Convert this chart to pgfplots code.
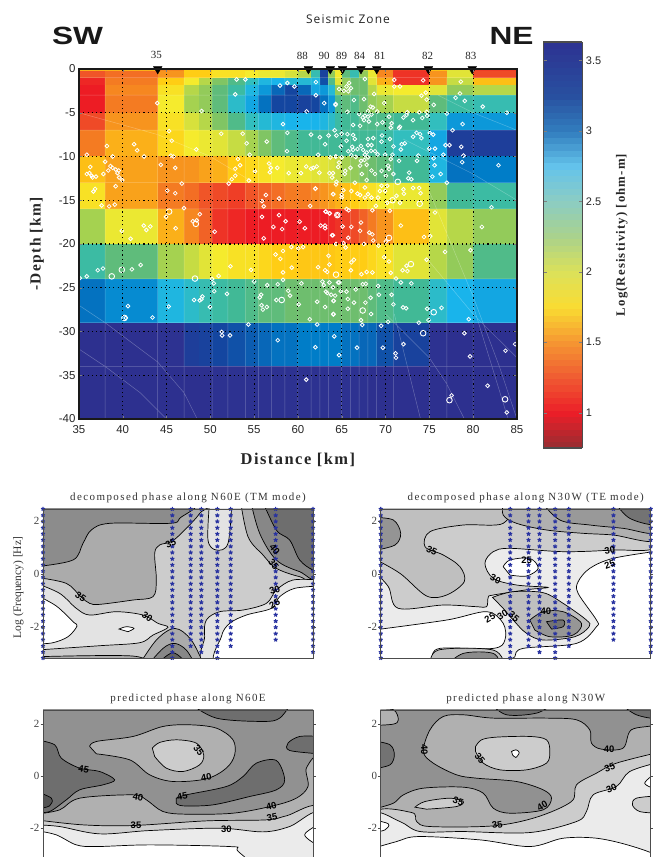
\documentclass[border=0pt]{standalone}
\usepackage{pgfplots}
\usepackage{pgfplotstable}
\usepackage{fontspec}
\pgfplotsset{compat=1.18}
\setmainfont{Liberation Serif}
\newfontfamily\sans{Liberation Sans}
\newfontfamily\lsserif[LetterSpace=13]{Liberation Serif}
\newfontfamily\lsbold[LetterSpace=9]{Liberation Serif Bold}
\newfontfamily\lssans[LetterSpace=9]{Open Sans}

\tikzset{clab/.style={font=\sans\bfseries\fontsize{9.5}{9.5}\selectfont, inner sep=0pt}}
% colour scale of the colorbar and the (more saturated) one of the section
\pgfplotsset{
  colormap={cb}{rgb255(0pt)=(150,45,50) rgb255(25pt)=(235,30,40) rgb255(50pt)=(240,90,50)
    rgb255(75pt)=(245,150,50) rgb255(100pt)=(250,220,50) rgb255(125pt)=(220,225,90)
    rgb255(150pt)=(170,210,140) rgb255(175pt)=(140,205,195) rgb255(200pt)=(100,195,235)
    rgb255(225pt)=(50,125,190) rgb255(250pt)=(40,80,160) rgb255(288pt)=(45,50,145)},
  colormap={hm}{rgb255(0pt)=(150,40,45) rgb255(25pt)=(237,28,36) rgb255(50pt)=(240,85,40)
    rgb255(75pt)=(247,148,30) rgb255(95pt)=(255,205,20) rgb255(110pt)=(245,235,45)
    rgb255(125pt)=(215,225,60) rgb255(140pt)=(165,210,80) rgb255(155pt)=(110,190,110)
    rgb255(170pt)=(65,185,150) rgb255(185pt)=(50,190,190) rgb255(205pt)=(25,180,235)
    rgb255(225pt)=(0,125,200) rgb255(250pt)=(20,70,160) rgb255(275pt)=(45,50,145) rgb255(288pt)=(45,45,140)},
  cf/.style={draw=black, line width=.7bp, smooth, tension=.55, no marks},
  panel/.style={
    scale only axis, width=270bp, clip mode=individual, axis on top,
    xtick=\empty, ytick={-2,0,2}, tick align=outside, major tick length=2.5bp,
    axis line style={black!70, line width=.9bp}, tick style={black!70},
    yticklabel style={font=\fontsize{11}{12}\selectfont, text=black!75, inner sep=1bp},
    /pgf/number format/assume math mode=true,
    title style={font=\lsserif\fontsize{11}{12}\selectfont, text=black!80, xshift=10bp, yshift=-3bp},
  },
}

% log10 of the frequencies of the sounding, shared by all stations
\pgfplotstableread{
f
2.44
2.2
1.97
1.73
1.5
1.27
1.03
.8
.56
.33
.09
-.14
-.38
-.61
-.85
-1.08
-1.32
-1.55
-1.79
-2.02
-2.26
-2.49
-2.73
-2.96
-3.18
}\freqs
\newcommand\station[2]{\addplot[only marks, mark=star, mark size=2.1bp, line width=1.15bp, color={rgb,255:red,40;green,50;blue,160},
  restrict y to domain=#2:3] table[x expr=#1, y=f] {\freqs};}

\begin{document}
\begin{tikzpicture}[x=1bp,y=1bp]
\useasboundingbox (0,0) rectangle (655,857);

% ---- resistivity section ----
\begin{axis}[
  at={(78.9bp,438bp)}, anchor=south west,
  scale only axis, width=438bp, height=350bp,
  xmin=35, xmax=85, ymin=-40, ymax=0,
  xtick={35,40,...,85}, ytick={0,-5,...,-40},
  clip mode=individual, axis on top,
  grid=major, grid style={black, line width=1.1bp, dash pattern=on 1.1bp off 3.2bp},
  tick align=inside, major tick length=3bp,
  axis line style={black!90, line width=1.5bp},
  tick label style={font=\sans\fontsize{11.5}{12}\selectfont, text=black!85},
  xticklabel style={yshift=-3bp},
  /pgf/number format/assume math mode=true,
  xlabel={Distance [km]}, ylabel={-Depth [km]},
  xlabel style={font=\lsbold\fontsize{16.5}{17}\selectfont, text=black!85, yshift=-13bp},
  ylabel style={font=\lsbold\fontsize{15.5}{16}\selectfont, text=black!85, yshift=8bp},
  colormap name=cb, point meta min=0.75, point meta max=3.63,
  colorbar sampled,
  colorbar style={samples=65, at={(parent axis.north east)}, anchor=north west,
    xshift=18bp, yshift=27bp, width=39bp, height=406bp,
    ytick={1,1.5,2,2.5,3,3.5}, yticklabels={1,1.5,2,2.5,3,3.5}, ytick pos=both, yticklabel pos=right,
    tick align=inside, major tick length=3.5bp, axis line style={black!70, line width=1.2bp},
    grid=none,
    tick label style={font=\sans\fontsize{11}{12}\selectfont, text=black!85},
    ylabel={Log(Resistivity) [ohm-m]},
    ylabel style={font=\lsbold\fontsize{12.8}{13}\selectfont, text=black!85, yshift=-8bp, xshift=10bp},
  },
]
\addplot[surf, shader=flat corner, colormap name=hm, mesh/cols=26, point meta=explicit]
  table[row sep=\\, x=x, y=y, meta=c] {
x y c\\
35 0 1.6\\38 0 1.6\\44 0 1.45\\47 0 1.7\\48.7 0 1.7\\50.2 0 1.8\\52 0 1.8\\54 0 1.8\\55.5 0 1.8\\57 0 1.85\\58.5 0 1.85\\60 0 1.8\\61.5 0 2.5\\62.5 0 3.25\\63.5 0 2.0\\64.3 0 1.85\\65 0 2.4\\66 0 2.5\\67 0 2.1\\68 0 1.8\\69 0 1.45\\70.9 0 1.15\\75 0 1.65\\77 0 1.95\\80 0 1.15\\85 0 1.15\\
35 -0.3 1.25\\38 -0.3 1.35\\44 -0.3 1.5\\47 -0.3 1.7\\48.7 -0.3 1.7\\50.2 -0.3 1.8\\52 -0.3 1.8\\54 -0.3 1.85\\55.5 -0.3 1.9\\57 -0.3 1.9\\58.5 -0.3 2.0\\60 -0.3 2.1\\61.5 -0.3 2.55\\62.5 -0.3 3.3\\63.5 -0.3 2.2\\64.3 -0.3 1.85\\65 -0.3 2.35\\66 -0.3 2.55\\67 -0.3 2.2\\68 -0.3 1.9\\69 -0.3 1.45\\70.9 -0.3 1.1\\75 -0.3 1.5\\77 -0.3 1.95\\80 -0.3 1.2\\85 -0.3 1.2\\
35 -1 1.05\\38 -1 1.4\\44 -1 1.7\\47 -1 1.85\\48.7 -1 2.1\\50.2 -1 2.25\\52 -1 2.4\\54 -1 2.6\\55.5 -1 2.75\\57 -1 2.8\\58.5 -1 2.7\\60 -1 2.7\\61.5 -1 2.75\\62.5 -1 3.2\\63.5 -1 2.4\\64.3 -1 1.95\\65 -1 2.2\\66 -1 2.3\\67 -1 2.3\\68 -1 1.95\\69 -1 1.6\\70.9 -1 1.1\\75 -1 1.5\\77 -1 2.05\\80 -1 1.65\\85 -1 1.65\\
35 -1.9 1.0\\38 -1.9 1.45\\44 -1.9 1.8\\47 -1.9 2.1\\48.7 -1.9 2.2\\50.2 -1.9 2.35\\52 -1.9 2.5\\54 -1.9 2.75\\55.5 -1.9 2.9\\57 -1.9 3.1\\58.5 -1.9 3.25\\60 -1.9 3.1\\61.5 -1.9 2.85\\62.5 -1.9 2.9\\63.5 -1.9 2.7\\64.3 -1.9 2.2\\65 -1.9 2.2\\66 -1.9 2.3\\67 -1.9 2.3\\68 -1.9 2.1\\69 -1.9 1.9\\70.9 -1.9 1.85\\75 -1.9 1.95\\77 -1.9 2.2\\80 -1.9 2.1\\85 -1.9 2.1\\
35 -3 1.0\\38 -3 1.4\\44 -3 1.85\\47 -3 2.15\\48.7 -3 2.2\\50.2 -3 2.35\\52 -3 2.65\\54 -3 2.85\\55.5 -3 3.05\\57 -3 3.25\\58.5 -3 3.25\\60 -3 3.3\\61.5 -3 3.25\\62.5 -3 3.05\\63.5 -3 2.9\\64.3 -3 2.4\\65 -3 2.35\\66 -3 2.4\\67 -3 2.3\\68 -3 2.2\\69 -3 2.15\\70.9 -3 2.05\\75 -3 2.35\\77 -3 2.5\\80 -3 2.55\\85 -3 2.55\\
35 -5 1.2\\38 -5 1.5\\44 -5 1.8\\47 -5 2.0\\48.7 -5 2.1\\50.2 -5 2.25\\52 -5 2.4\\54 -5 2.6\\55.5 -5 2.7\\57 -5 2.75\\58.5 -5 2.8\\60 -5 2.8\\61.5 -5 2.8\\62.5 -5 2.75\\63.5 -5 2.65\\64.3 -5 2.5\\65 -5 2.45\\66 -5 2.45\\67 -5 2.4\\68 -5 2.4\\69 -5 2.4\\70.9 -5 2.45\\75 -5 2.6\\77 -5 2.9\\80 -5 2.9\\85 -5 2.9\\
35 -7 1.4\\38 -7 1.6\\44 -7 1.75\\47 -7 1.85\\48.7 -7 1.9\\50.2 -7 1.95\\52 -7 2.05\\54 -7 2.15\\55.5 -7 2.25\\57 -7 2.35\\58.5 -7 2.4\\60 -7 2.45\\61.5 -7 2.45\\62.5 -7 2.45\\63.5 -7 2.45\\64.3 -7 2.45\\65 -7 2.45\\66 -7 2.45\\67 -7 2.45\\68 -7 2.45\\69 -7 2.5\\70.9 -7 2.6\\75 -7 2.85\\77 -7 3.35\\80 -7 3.35\\85 -7 3.35\\
35 -10 1.65\\38 -10 1.55\\44 -10 1.5\\47 -10 1.5\\48.7 -10 1.55\\50.2 -10 1.6\\52 -10 1.7\\54 -10 1.75\\55.5 -10 1.8\\57 -10 1.85\\58.5 -10 1.9\\60 -10 1.9\\61.5 -10 1.95\\62.5 -10 1.95\\63.5 -10 2.0\\64.3 -10 2.05\\65 -10 2.15\\66 -10 2.2\\67 -10 2.25\\68 -10 2.3\\69 -10 2.35\\70.9 -10 2.45\\75 -10 2.75\\77 -10 3.05\\80 -10 3.0\\85 -10 3.0\\
35 -13 1.8\\38 -13 1.55\\44 -13 1.4\\47 -13 1.35\\48.7 -13 1.25\\50.2 -13 1.2\\52 -13 1.15\\54 -13 1.25\\55.5 -13 1.3\\57 -13 1.35\\58.5 -13 1.4\\60 -13 1.4\\61.5 -13 1.45\\62.5 -13 1.5\\63.5 -13 1.55\\64.3 -13 1.6\\65 -13 1.65\\66 -13 1.7\\67 -13 1.75\\68 -13 1.8\\69 -13 1.85\\70.9 -13 1.9\\75 -13 2.2\\77 -13 2.45\\80 -13 2.5\\85 -13 2.5\\
35 -16 2.15\\38 -16 1.9\\44 -16 1.6\\47 -16 1.45\\48.7 -16 1.3\\50.2 -16 1.1\\52 -16 1.05\\54 -16 1\\55.5 -16 1\\57 -16 1\\58.5 -16 1\\60 -16 1\\61.5 -16 1\\62.5 -16 1\\63.5 -16 1.05\\64.3 -16 1.1\\65 -16 1.15\\66 -16 1.2\\67 -16 1.3\\68 -16 1.4\\69 -16 1.5\\70.9 -16 1.65\\75 -16 1.95\\77 -16 2.1\\80 -16 2.2\\85 -16 2.2\\
35 -20 2.5\\38 -20 2.35\\44 -20 2.15\\47 -20 2.05\\48.7 -20 1.95\\50.2 -20 1.85\\52 -20 1.8\\54 -20 1.8\\55.5 -20 1.75\\57 -20 1.7\\58.5 -20 1.7\\60 -20 1.68\\61.5 -20 1.68\\62.5 -20 1.68\\63.5 -20 1.68\\64.3 -20 1.7\\65 -20 1.7\\66 -20 1.7\\67 -20 1.7\\68 -20 1.75\\69 -20 1.8\\70.9 -20 1.95\\75 -20 2.1\\77 -20 2.2\\80 -20 2.4\\85 -20 2.4\\
35 -24 3.05\\38 -24 2.95\\44 -24 2.75\\47 -24 2.65\\48.7 -24 2.55\\50.2 -24 2.5\\52 -24 2.45\\54 -24 2.4\\55.5 -24 2.35\\57 -24 2.35\\58.5 -24 2.3\\60 -24 2.3\\61.5 -24 2.3\\62.5 -24 2.3\\63.5 -24 2.3\\64.3 -24 2.3\\65 -24 2.3\\66 -24 2.3\\67 -24 2.3\\68 -24 2.35\\69 -24 2.4\\70.9 -24 2.45\\75 -24 2.65\\77 -24 2.8\\80 -24 2.85\\85 -24 2.85\\
35 -29 3.55\\38 -29 3.55\\44 -29 3.5\\47 -29 3.35\\48.7 -29 3.3\\50.2 -29 3.25\\52 -29 3.2\\54 -29 3.15\\55.5 -29 3.1\\57 -29 3.05\\58.5 -29 3.05\\60 -29 3\\61.5 -29 3\\62.5 -29 3\\63.5 -29 3\\64.3 -29 3\\65 -29 3.05\\66 -29 3.05\\67 -29 3.1\\68 -29 3.1\\69 -29 3.2\\70.9 -29 3.3\\75 -29 3.5\\77 -29 3.55\\80 -29 3.55\\85 -29 3.55\\
35 -34 3.55\\38 -34 3.55\\44 -34 3.55\\47 -34 3.55\\48.7 -34 3.55\\50.2 -34 3.5\\52 -34 3.5\\54 -34 3.5\\55.5 -34 3.5\\57 -34 3.5\\58.5 -34 3.5\\60 -34 3.5\\61.5 -34 3.5\\62.5 -34 3.5\\63.5 -34 3.5\\64.3 -34 3.5\\65 -34 3.5\\66 -34 3.5\\67 -34 3.5\\68 -34 3.55\\69 -34 3.55\\70.9 -34 3.55\\75 -34 3.55\\77 -34 3.55\\80 -34 3.55\\85 -34 3.55\\
35 -40 3.55\\38 -40 3.55\\44 -40 3.55\\47 -40 3.55\\48.7 -40 3.55\\50.2 -40 3.5\\52 -40 3.5\\54 -40 3.5\\55.5 -40 3.5\\57 -40 3.5\\58.5 -40 3.5\\60 -40 3.5\\61.5 -40 3.5\\62.5 -40 3.5\\63.5 -40 3.5\\64.3 -40 3.5\\65 -40 3.5\\66 -40 3.5\\67 -40 3.5\\68 -40 3.55\\69 -40 3.55\\70.9 -40 3.55\\75 -40 3.55\\77 -40 3.55\\80 -40 3.55\\85 -40 3.55\\
};
% pale mesh lines of the inversion grid
\addplot[white, opacity=.28, line width=.5bp, no marks, unbounded coords=jump] coordinates {
(35,-1)(85,-1)(35,nan)(35,-3)(85,-3)(35,nan)(35,-7)(85,-7)(35,nan)(35,-13)(85,-13)(35,nan)(35,-16)(85,-16)(35,nan)
(35,-24)(85,-24)(35,nan)(35,-29)(85,-29)(35,nan)(35,-34)(85,-34)(35,nan)
(38,-1)(38,-40)(35,nan)(44,-1)(44,-40)(35,nan)(47,-1)(47,-40)(35,nan)(50.2,-1)(50.2,-40)(35,nan)(52,-1)(52,-40)(35,nan)
(54,-1)(54,-40)(35,nan)(55.5,-1)(55.5,-40)(35,nan)(57,-1)(57,-40)(35,nan)(58.5,-1)(58.5,-40)(35,nan)(60,-1)(60,-40)(35,nan)
(61.5,-1)(61.5,-40)(35,nan)(62.5,-1)(62.5,-40)(35,nan)(63.5,-1)(63.5,-40)(35,nan)(65,-1)(65,-40)(35,nan)(66,-1)(66,-40)(35,nan)
(67,-1)(67,-40)(35,nan)(68,-1)(68,-40)(35,nan)(69,-1)(69,-40)(35,nan)(70.9,-1)(70.9,-40)(35,nan)(75,-1)(75,-40)(35,nan)(77,-1)(77,-40)(35,nan)(80,-1)(80,-40)(35,nan)
(35,-27)(38,-29)(44,-33.5)(47,-37)(48.5,-40)(35,nan)(35,-32)(38,-34)(42,-37)(45,-40)(35,nan)(35,-5)(44,-7.5)(50,-10)(55,-13)(35,nan)
(70,-28)(75,-33)(77,-36)(79,-40)(35,nan)(75,-14)(80,-26)(83,-34)(85,-40)(35,nan)(72,-8)(80,-12)(85,-15)(35,nan)(76,-3)(80,-5)(85,-7)(35,nan)
(75,-22)(80,-28)(85,-33)(35,nan)(71,-28)(74,-40)(35,nan)(80,-27)(84,-40)
};
% earthquakes
\addplot[only marks, mark=o, mark size=1.9bp, mark options={white, line width=.8bp}] coordinates {
(53,-1.2)(54,-1.2)(52.85,-2.9)(57.95,-1.9)(58.8,-1.6)(59.6,-2)(62.05,-1.5)(62.05,-3)(63,-3.9)(64.3,-4)(61,-4.85)(43.95,-3.9)(49,-4.8)
(45.3,-7.1)(45.6,-8.2)(48.4,-9.2)(45.5,-9.9)(45.8,-10)(44.35,-10.95)(46,-11.3)(46.75,-13.1)(45.1,-13.9)(46,-14.2)(47,-15.9)
(35.9,-9.8)(38.2,-8.8)(38.85,-10)(41.3,-8.6)(41.65,-9.3)(42.45,-10)(38,-10.6)(36.3,-11.2)(35.9,-12)(36.2,-11.9)(36.45,-12.2)(36.55,-12.4)(36.95,-12.3)(37.8,-12)(38.35,-11.6)(38.6,-11.1)(38.85,-11.3)(39.2,-11.5)(39.55,-11.6)(39.4,-11.9)(39.6,-12.4)(39.95,-12.7)(39.2,-13.4)(36.85,-13.7)(36.65,-14)(37.6,-15.6)(38.45,-15.7)(39.1,-15.5)
(44.95,-16.9)(46.05,-18.2)(42.4,-17.9)(43.15,-18)(42.7,-18.4)(39.9,-18.5)(40.9,-19.4)(48.8,-16.6)(48,-17.4)(48.45,-17.3)(50.5,-18.6)
(51.25,-7.4)(53.7,-7.4)(54.15,-8.5)(54.5,-9.8)(53.15,-10.3)(53.4,-11)(52.85,-11.4)(52.85,-12.2)(52.45,-12.6)(52.1,-13.1)(54.4,-12.75)(55.1,-11.7)
(56.45,-8.3)(58.8,-7.3)(58.75,-9.4)(58.3,-6.3)(56.7,-10.8)(56.9,-11.3)(57.65,-11.3)(56.8,-11.8)(58.95,-11.9)(60.35,-11.9)
(60.95,-11.15)(61.5,-11.4)(61.75,-11.3)(62.15,-11.15)(62.45,-11.85)(63.6,-11.9)(64,-11.9)(63.9,-12.4)
(61.5,-7.5)(62.5,-7.8)(63.5,-7.6)(63.1,-8.6)(64.2,-7)(64.4,-7.6)(62.3,-9.8)(63.7,-10.1)(64.3,-10)(64.7,-10.7)(64.6,-11.2)(64.35,-13.2)(64,-14.3)(62,-13.7)(61.4,-15.65)
(56.35,-14.4)(55.9,-15.1)(56.1,-15.7)(57.85,-14.8)(55.9,-16.9)(57.85,-16.7)(58.6,-17.4)(57.2,-18.05)(58.2,-18.3)(60.2,-17.45)(60.8,-18.2)(56.1,-19.35)(63.2,-16.3)(63.6,-16.5)(64.5,-16.7)(62.6,-17.9)(63.1,-17.9)(63.1,-18.2)(64,-19)
(71,-1.25)(74.3,-1.3)(71,-2)(71.65,-2)(74.6,-2.7)(74.1,-3.05)(74.7,-3.5)(75.5,-4.1)(78.6,-1.45)(78.5,-2.8)(78,-3.3)(79.05,-3.65)(81.1,-4.3)(77,-5.1)(78.8,-6.3)(77.65,-7)(83.85,-5)(76.85,-8.7)(77.3,-8.7)(78.65,-8.9)(78.9,-9.9)(78.75,-10.65)(82.9,-11)(76.6,-9.8)(75.45,-7.5)(75.05,-7.3)(75,-9.1)(75.65,-9.1)(75.5,-10.2)(75.6,-11)(76.3,-12)(75.35,-12.3)(77,-13)(82.1,-15.8)(75.65,-16.4)(81,-18.05)(71.75,-17.9)(74.4,-19.2)(75.1,-19.1)
(65.85,-1.6)(65.25,-2.5)(64.7,-2.3)(66.05,-2.2)(65.55,-2)(65.75,-2.55)(67.65,-1.15)(66.4,-3.55)(67.55,-3.45)(68.7,-2.85)(69.85,-3.9)(64.3,-4.1)(65.65,-4.9)(67,-5.15)(68.3,-4.3)(68.55,-4.4)(68,-4.8)(69.05,-4.85)(67.65,-5.35)(67.4,-5.55)(68,-5.45)(68.4,-5.2)(67.55,-5.85)(67.1,-6.5)(66.3,-6.4)(68.1,-6)(69.05,-6.3)(69.65,-6.1)(70.4,-5.45)(70.7,-6.2)(70.6,-6.7)(71.55,-6.75)(72.4,-5.25)(72.05,-5.55)(71.65,-6.6)(72.5,-4.95)(73.15,-5.85)(73.85,-4.95)(74.2,-5.6)(74.75,-5.35)(74.7,-4.9)
(65,-7.4)(65.65,-7.45)(65.55,-8.2)(66.3,-7.55)(66.5,-8)(64.9,-8.85)(66.2,-8.9)(65.75,-9.4)(66.3,-9.25)(66.8,-9.15)(68,-8)(68.6,-7.9)(69.6,-7.6)(70.5,-8)(69.55,-8.3)(67.2,-8.8)(68,-8.7)(68.4,-8.7)(67.45,-9.25)(67.85,-9.55)(68.35,-9.35)(68.8,-9.4)(69.1,-9.75)(67.65,-9.8)(68,-10.1)(66.1,-9.85)(66.6,-10.05)(65,-10.1)(64.35,-10)(69.95,-9.8)(70.9,-8.85)(71.85,-8.6)(72.2,-8.5)(71.75,-9.2)(70.8,-9.8)(71.55,-10.5)(73.15,-7.75)(73.55,-7.3)(73.95,-7.45)(74.1,-7.9)(73.75,-9.9)(73.6,-10.5)
(67.2,-10.5)(67.6,-10.4)(67.1,-11.05)(67.85,-10.95)(66,-11.3)(65.4,-11.65)(67.3,-12)(68.4,-11.6)(68.8,-12)(69.55,-11.65)(70.3,-11.05)(70.6,-10.3)(70.4,-11.45)(70.9,-12)(72.7,-11.85)(72.6,-12.5)(72.95,-12.6)(70.05,-12.2)(67.85,-12.7)(66.5,-13)(64.4,-12.9)(65.35,-12)(62,-13.65)(64.05,-14.3)(65,-14.4)(65.2,-13.85)(66.1,-13.95)(66.8,-14.25)(67.1,-14.4)(67.65,-13.55)(68,-14.3)(68.4,-14.7)(69.15,-14.7)(69.35,-13.95)(69.95,-13.95)(70.2,-13.35)(69.55,-13.35)(71.65,-15.3)(71.25,-14.5)(72.05,-13.75)(73.15,-13.6)(73.85,-13.6)(74,-14.2)(72.1,-14.25)(67.65,-14.7)(68.9,-15.65)(68.5,-16.15)(70.2,-15.3)(70.5,-16.2)(65,-14.7)
(63.15,-16.3)(63.65,-16.5)(65.55,-16)(65.8,-16.15)(67.2,-17.55)(67.1,-18.5)(66.1,-18.05)(65.1,-18)(63.9,-19)(68.15,-18.7)(68.5,-18.9)(65.75,-19.3)
(41.05,-22.9)(42.05,-22.4)(37.75,-22.8)(37.15,-23)(35.9,-23.7)(35.1,-23.9)(40.35,-28.45)(40.6,-27.1)(43.4,-28.4)(45.25,-27.15)(48.15,-26.4)(48.8,-26.45)(49,-26.3)(49.1,-26)(49.95,-27.2)(50.2,-24)(50.95,-23.65)(50.4,-24.5)(50.45,-25.4)(51.9,-25.7)(52.3,-22.55)(54.65,-22.95)(55,-24.3)(54.35,-29.2)(51.3,-30.05)(51.35,-30.45)(52.25,-30.45)(57.7,-31)(62,-31.8)(60.95,-35.5)
(55.65,-26.1)(55.8,-25.8)(55.85,-27)(56,-27.5)(56.45,-27.2)(56.5,-24.7)(57.7,-24.6)(58.3,-24.1)(57.55,-26.4)(58.9,-25.35)(59.1,-25.9)(60.1,-26.9)(60.4,-24.5)(57.45,-21.2)(58,-21.7)(58.3,-20.8)(58.3,-23.25)(59.3,-22.7)(59.25,-20.35)(60.05,-20.5)(60.6,-20.35)(62.3,-22.65)(63.1,-23)(63.35,-23.2)(63.5,-21.35)(63.6,-22.35)(64.35,-20)(61.35,-28.6)(62.2,-29.2)(62.2,-26.6)(63.1,-27.2)(64.05,-26.5)(64.05,-28.05)(62.8,-24.3)(63.6,-24.4)(62.95,-24.7)(63.2,-25.45)(63.35,-25.6)(63.8,-25.8)(64.25,-25.9)(64.6,-24.4)(64,-24.95)(64.15,-30.55)(64.7,-32.7)
(66.1,-22.1)(66.4,-21.8)(66.05,-23)(67.25,-23.45)(67.85,-23.2)(68.5,-23.25)(69.85,-21.5)(70.4,-22)(74.7,-21.8)(76.8,-20.9)(79.7,-20.7)(72.4,-22.5)(71.95,-23)(72.5,-23.1)(70.6,-23.3)(71.2,-23.95)(71.75,-24.4)(72.95,-24.5)(64.7,-24.4)
(64.9,-25.4)(65.55,-25.45)(66.6,-25.2)(67.4,-24.6)(67.75,-24.55)(69.15,-24.8)(69.25,-25.8)(70.7,-25.8)(65.7,-26.3)(66.4,-26.7)(67.7,-26.7)(68.3,-26.15)(64.1,-26.5)(65.7,-27.4)(68.35,-28)(64.05,-28)(70.9,-26.9)(72,-27.25)(72.35,-27.35)(74.75,-27.4)(76.4,-27.3)(79.5,-28.6)(73.8,-29)(74.9,-28.7)(70.3,-28.9)(67.2,-28.7)(67.35,-29.25)(69.5,-29.35)(79,-30.2)(72.05,-31.45)(69.7,-31.85)(66.75,-31.85)(71.15,-32.5)(71.2,-33)(79.65,-32.85)(83.7,-32.2)(84.8,-31.45)(81.65,-36.2)(77.55,-37.3)(83.85,-39.25)
(65.2,-19.9)(64.35,-20)(65.45,-20.4)(67.55,-20)(69.2,-20.2)(70.05,-19.7)(68.6,-19.6)
};
\addplot[only marks, mark=o, mark size=2.8bp, mark options={white, line width=.9bp}] coordinates {
(45.3,-16.3)(48.35,-17.7)(38.75,-23.7)(39.9,-22.95)(48.25,-23.95)(58.15,-26.4)(64.35,-23.5)(71.4,-12.9)(70.8,-15)(73.9,-15.4)(64.5,-16.7)(70.4,-19.3)(72.9,-22.3)(67.4,-27.6)(75.5,-27.8)(74.3,-30.2)(77.3,-37.85)(83.65,-37.75)(40.2,-28.45)
};
% stations
\addplot[only marks, mark=triangle*, mark size=5bp, mark options={rotate=180, fill=black, draw=black}] coordinates {
(44,0)(61.2,0)(63.7,0)(65.1,0)(67.2,0)(69,0)(74.9,0)(79.9,0)};
\node[font=\fontsize{11}{12}\selectfont, text=black!85] at (axis cs:43.85,1.55) {35};
\node[font=\fontsize{11}{12}\selectfont, text=black!85] at (axis cs:60.5,1.55) {88};
\node[font=\fontsize{11}{12}\selectfont, text=black!85] at (axis cs:63,1.55) {90};
\node[font=\fontsize{11}{12}\selectfont, text=black!85] at (axis cs:65,1.55) {89};
\node[font=\fontsize{11}{12}\selectfont, text=black!85] at (axis cs:67.05,1.55) {84};
\node[font=\fontsize{11}{12}\selectfont, text=black!85] at (axis cs:69.35,1.55) {81};
\node[font=\fontsize{11}{12}\selectfont, text=black!85] at (axis cs:74.8,1.55) {82};
\node[font=\fontsize{11}{12}\selectfont, text=black!85] at (axis cs:79.75,1.55) {83};
\end{axis}

\node[font=\sans\bfseries\fontsize{25}{25}\selectfont, xscale=1.27, text=black!90] at (77.5,821.5) {SW};
\node[font=\sans\bfseries\fontsize{25}{25}\selectfont, xscale=1.27, text=black!90] at (511.5,821.5) {NE};
\node[font=\lssans\fontsize{12}{12}\selectfont, text=black!85] at (348,838) {Seismic Zone};

% ---- decomposed phase, TM ----
\begin{axis}[panel, at={(43bp,199bp)}, anchor=south west, height=149bp,
  xmin=130, xmax=940, ymin=-3.18, ymax=2.44,
  title={decomposed phase along N60E (TM mode)},
  ylabel={Log (Frequency) [Hz]}, ylabel style={font=\fontsize{11.5}{12}\selectfont, text=black!80, yshift=2bp, xshift=-4bp},
  cf/.append style={y filter/.expression={(281-y)/79.5}}]
\addplot[cf, fill=black!20, draw=none] coordinates {(110,60)(960,60)(960,560)(110,560)} --cycle;
\addplot[cf, fill=black!33] coordinates {(110,292)(200,310)(243,350)(270,370)(300,373)(400,360)(460,350)(470,300)(465,220)(480,195)(515,185)(550,155)(600,100)(610,60)(110,60)} --cycle;
\addplot[cf, fill=black!45] coordinates {(110,260)(220,240)(250,190)(275,150)(330,130)(510,130)(540,115)(570,60)(110,60)} --cycle;
\addplot[cf, fill=black!33] coordinates {(722,60)(745,170)(790,225)(830,265)(900,290)(960,297)(970,60)} --cycle;
\addplot[cf, fill=black!47] coordinates {(752,60)(780,160)(830,240)(900,275)(960,288)(970,60)} --cycle;
\addplot[cf, fill=black!57] coordinates {(787,60)(830,150)(870,180)(900,240)(940,270)(970,270)(970,60)} --cycle;
\addplot[cf, fill=black!11] coordinates {(630,60)(625,180)(650,210)(685,190)(697,60)} --cycle;
\addplot[cf, fill=black!11] coordinates {(110,310)(180,340)(230,385)(270,405)(350,395)(430,405)(475,430)(505,442)(460,465)(420,488)(300,497)(110,510)} --cycle;
\addplot[cf, fill=white] coordinates {(110,345)(170,378)(220,425)(232,438)(205,470)(160,488)(110,492)} --cycle;
\addplot[cf, fill=white] coordinates {(358,447)(380,440)(403,445)(385,455)} --cycle;
\addplot[cf, fill=black!33] coordinates {(110,530)(400,528)(430,560)(110,560)} --cycle;
\addplot[cf, fill=black!11] coordinates {(960,300)(880,300)(830,330)(800,370)(730,390)(660,395)(620,420)(615,470)(628,560)(960,560)} --cycle;
\addplot[cf, fill=white] coordinates {(960,318)(885,325)(840,350)(815,385)(740,405)(690,430)(665,470)(660,560)(960,560)} --cycle;
\addplot[cf, fill=black!33] coordinates {(415,560)(470,480)(525,445)(575,480)(615,560)} --cycle;
\addplot[cf, fill=black!47] coordinates {(440,560)(490,505)(525,490)(560,510)(590,560)} --cycle;
\addplot[cf, fill=black!62] coordinates {(465,560)(520,518)(570,560)} --cycle;
\station{130}{-3.2}\station{518}{-3.2}\station{573}{-2.9}\station{605}{-3}\station{653}{-3.2}\station{693}{-2.75}\station{828}{-2.5}\station{940}{-3}
\node[clab,rotate=25] at (axis cs:513,1.14) {35};
\node[clab,rotate=-35] at (axis cs:243,-.87) {35};
\node[clab,rotate=-35] at (axis cs:443,-1.62) {30};
\node[clab,rotate=-50] at (axis cs:825,.92) {40};
\node[clab,rotate=-50] at (axis cs:822,.36) {35};
\node[clab,rotate=20] at (axis cs:825,-.62) {30};
\node[clab,rotate=30] at (axis cs:825,-1.14) {25};
\end{axis}

% ---- decomposed phase, TE ----
\begin{axis}[panel, at={(380.7bp,199bp)}, anchor=south west, height=149bp,
  xmin=152, xmax=963, ymin=-3.18, ymax=2.44,
  title={decomposed phase along N30W (TE mode)},
  cf/.append style={y filter/.expression={(281-y)/79.5}}]
\addplot[cf, fill=black!8, draw=none] coordinates {(130,60)(985,60)(985,560)(130,560)} --cycle;
\addplot[cf, fill=black!20] coordinates {(130,60)(985,60)(985,198)(850,210)(700,215)(540,205)(490,215)(465,250)(490,295)(560,315)(655,322)(600,328)(490,345)(475,352)(470,380)(440,380)(340,375)(205,385)(175,320)(130,272)} --cycle;
\addplot[cf, fill=black!25] coordinates {(130,60)(520,60)(520,130)(400,135)(300,155)(285,200)(340,225)(390,260)(403,305)(350,345)(290,348)(210,280)(130,235)} --cycle;
\addplot[cf, fill=black!42] coordinates {(130,112)(190,120)(212,160)(195,195)(130,212)} --cycle;
\addplot[cf, fill=black!31] coordinates {(520,60)(520,105)(560,130)(650,150)(760,160)(850,165)(985,180)(985,60)} --cycle;
\addplot[cf, fill=black!40] coordinates {(630,60)(690,120)(780,135)(880,145)(985,157)(985,60)} --cycle;
\addplot[cf, fill=black!55] coordinates {(850,60)(900,115)(985,132)(985,60)} --cycle;
\addplot[cf, fill=white] coordinates {(985,213)(850,235)(780,265)(745,305)(745,340)(800,420)(800,440)(740,490)(580,505)(555,530)(550,560)(985,560)} --cycle;
\addplot[cf, fill=white] coordinates {(130,450)(350,420)(470,395)(520,430)(525,480)(490,505)(330,505)(305,535)(295,560)(130,560)} --cycle;
\addplot[cf, fill=white] coordinates {(520,260)(540,240)(600,235)(625,265)(590,288)(540,285)} --cycle;
\addplot[cf, fill=black!25] coordinates {(488,352)(550,335)(640,338)(700,370)(770,420)(778,440)(735,470)(640,480)(590,460)(550,420)(520,385)} --cycle;
\addplot[cf, fill=black!41] coordinates {(600,420)(640,395)(700,395)(755,430)(730,465)(660,470)(615,450)} --cycle;
\addplot[cf, fill=black!55] coordinates {(650,425)(700,420)(700,440)(665,447)} --cycle;
\addplot[cf, fill=black!25] coordinates {(300,560)(325,510)(490,510)(525,560)} --cycle;
\addplot[cf, fill=black!45] coordinates {(345,560)(400,520)(490,520)(515,560)} --cycle;
\station{152}{-3.2}\station{541}{-3.2}\station{596}{-2.9}\station{629}{-3}\station{676}{-3.2}\station{717}{-2.75}\station{851}{-2.5}\station{963}{-3}
\node[clab,rotate=-25] at (axis cs:305,.87) {35};
\node[clab] at (axis cs:590,.52) {25};
\node[clab,rotate=-25] at (axis cs:497,-.21) {30};
\node[clab] at (axis cs:648,-1.4) {40};
\node[clab,rotate=30] at (axis cs:480,-1.66) {25};
\node[clab,rotate=30] at (axis cs:518,-1.56) {30};
\node[clab,rotate=-40] at (axis cs:552,-1.62) {35};
\node[clab,rotate=10] at (axis cs:840,.87) {30};
\node[clab,rotate=20] at (axis cs:840,.36) {25};
\end{axis}

% ---- predicted phase, N60E ----
\begin{axis}[panel, at={(43bp,-1bp)}, anchor=south west, height=148bp,
  xmin=130, xmax=940, ymin=-3.17, ymax=2.54, ytick pos=both, yticklabel pos=left,
  title={predicted phase along N60E},
  cf/.append style={y filter/.expression={(288-y)/77.7}}]
\addplot[cf, fill=black!43, draw=none] coordinates {(110,60)(960,60)(960,570)(110,570)} --cycle;
\addplot[cf, fill=black!57] coordinates {(570,70)(650,115)(790,125)(840,115)(875,70)} --cycle;
\addplot[cf, fill=black!57] coordinates {(110,180)(165,195)(185,235)(240,265)(300,275)(345,300)(310,315)(240,330)(200,360)(150,395)(110,398)} --cycle;
\addplot[cf, fill=black!67] coordinates {(110,335)(155,355)(150,378)(110,388)} --cycle;
\addplot[cf, fill=black!57] coordinates {(960,170)(900,170)(865,190)(870,212)(960,222)} --cycle;
\addplot[cf, fill=black!31] coordinates {(270,200)(290,185)(400,170)(490,140)(570,135)(650,145)(700,180)(705,225)(680,265)(620,297)(520,305)(450,285)(390,240)(290,222)} --cycle;
\addplot[cf, fill=black!20] coordinates {(458,205)(480,188)(530,180)(590,190)(612,225)(600,255)(550,275)(500,265)(465,230)} --cycle;
\addplot[cf, fill=black!57] coordinates {(530,355)(560,345)(680,320)(730,290)(770,250)(830,242)(855,300)(830,330)(750,350)(640,375)(550,378)(530,370)} --cycle;
\addplot[cf, fill=black!31] coordinates {(110,403)(180,390)(240,355)(400,345)(440,360)(490,395)(560,403)(700,400)(820,378)(890,355)(925,320)(920,265)(960,248)(960,570)(110,570)} --cycle;
\addplot[cf, fill=black!20] coordinates {(110,420)(250,435)(400,437)(620,423)(800,420)(860,408)(960,384)(960,570)(110,570)} --cycle;
\addplot[cf, fill=black!8] coordinates {(110,435)(180,440)(300,462)(450,452)(660,445)(790,456)(870,440)(960,400)(960,570)(110,570)} --cycle;
\addplot[cf, fill=white] coordinates {(110,452)(170,465)(230,495)(290,500)(450,495)(690,500)(712,510)(705,570)(110,570)} --cycle;
\addplot[cf, fill=white] coordinates {(960,432)(915,465)(960,500)} --cycle;
\node[clab,rotate=-50] at (axis cs:597,.98) {35};
\node[clab,rotate=-10] at (axis cs:252,.26) {45};
\node[clab,rotate=10] at (axis cs:620,-.06) {40};
\node[clab,rotate=-10] at (axis cs:415,-.82) {40};
\node[clab,rotate=10] at (axis cs:548,-.8) {45};
\node[clab,rotate=15] at (axis cs:815,-1.16) {40};
\node[clab,rotate=10] at (axis cs:817,-1.61) {35};
\node[clab] at (axis cs:409,-1.89) {35};
\node[clab] at (axis cs:680,-2.05) {30};
\end{axis}

% ---- predicted phase, N30W ----
\begin{axis}[panel, at={(380.7bp,-1bp)}, anchor=south west, height=148bp,
  xmin=152, xmax=963, ymin=-3.17, ymax=2.54, ytick pos=both, yticklabel pos=left,
  title={predicted phase along N30W},
  cf/.append style={y filter/.expression={(288-y)/77.7}}]
\addplot[cf, fill=black!31, draw=none] coordinates {(130,60)(985,60)(985,570)(130,570)} --cycle;
\addplot[cf, fill=black!43] coordinates {(130,60)(985,60)(985,130)(905,150)(880,205)(815,208)(785,190)(780,150)(740,120)(650,115)(490,115)(400,105)(340,110)(300,150)(280,215)(310,250)(380,285)(440,295)(560,305)(640,330)(665,355)(640,390)(540,400)(490,385)(460,340)(400,322)(280,325)(220,345)(190,370)(130,388)} --cycle;
\addplot[cf, fill=black!31] coordinates {(130,88)(190,90)(205,120)(190,133)(130,137)} --cycle;
\addplot[cf, fill=black!57] coordinates {(480,70)(530,105)(620,100)(675,70)} --cycle;
\addplot[cf, fill=black!57] coordinates {(870,70)(920,105)(985,114)(985,70)} --cycle;
\addplot[cf, fill=black!55] coordinates {(130,183)(180,195)(193,225)(180,255)(130,267)} --cycle;
\addplot[cf, fill=black!20] coordinates {(437,200)(455,180)(500,172)(600,170)(650,180)(660,215)(650,250)(590,270)(510,270)(460,250)(437,215)} --cycle;
\addplot[cf, fill=white] coordinates {(545,215)(558,210)(568,218)(558,233)(548,225)} --cycle;
\addplot[cf, fill=black!20] coordinates {(255,382)(285,365)(360,355)(400,365)(380,380)(290,388)} --cycle;
\addplot[cf, fill=black!20] coordinates {(985,218)(860,250)(800,280)(740,315)(725,365)(620,412)(490,438)(300,440)(260,425)(245,398)(130,400)(130,570)(985,570)} --cycle;
\addplot[cf, fill=black!8] coordinates {(985,248)(900,275)(860,320)(790,345)(770,395)(740,425)(600,458)(400,455)(270,455)(210,425)(130,405)(130,570)(985,570)} --cycle;
\addplot[cf, fill=white] coordinates {(130,505)(200,485)(265,470)(450,480)(600,500)(700,475)(800,475)(900,497)(985,530)(985,570)(130,570)} --cycle;
\addplot[cf, fill=white] coordinates {(130,420)(175,432)(165,450)(130,458)} --cycle;
\addplot[cf, fill=white] coordinates {(985,275)(945,310)(985,330)} --cycle;
\addplot[cf, fill=black!20] coordinates {(985,348)(920,355)(908,375)(930,395)(985,400)} --cycle;
\node[clab,rotate=-90] at (axis cs:283,1.0) {40};
\node[clab,rotate=-50] at (axis cs:450,.68) {35};
\node[clab] at (axis cs:838,1.04) {40};
\node[clab,rotate=20] at (axis cs:840,.33) {35};
\node[clab,rotate=25] at (axis cs:845,-.48) {30};
\node[clab,rotate=-20] at (axis cs:385,-.99) {35};
\node[clab,rotate=30] at (axis cs:637,-1.16) {40};
\node[clab,rotate=10] at (axis cs:502,-1.89) {35};
\end{axis}
\end{tikzpicture}
\end{document}
